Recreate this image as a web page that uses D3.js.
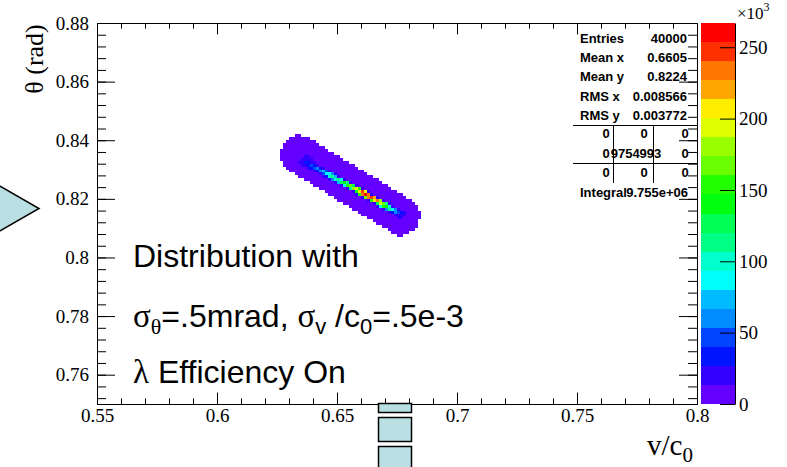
<!DOCTYPE html>
<html><head><meta charset="utf-8">
<script src="https://cdn.jsdelivr.net/npm/d3@7"></script>
<style>body{margin:0;background:#fff;} svg{display:block}</style>
</head><body>
<svg id="c" width="787" height="467"></svg>
<script>
// ---------------- data ----------------
const vRange = [0.55, 0.8];
const thetaRange = [0.75, 0.88];
const xTickLabels = ["0.55","0.6","0.65","0.7","0.75","0.8"];
const yTickLabels = ["0.76","0.78","0.8","0.82","0.84","0.86","0.88"];
const zTickLabels = ["0","50","100","150","200","250"];
const zMax = 267000;
const nLevels = 20;
const xBin = 0.00125;
const yBin = 0.001;

// outer (low count) envelope, one row per theta bin (bin low edge)
const envTheta = [0.841,0.840,0.839,0.838,0.837,0.836,0.835,0.834,0.833,0.832,0.831,0.830,0.829,0.828,0.827,0.826,0.825,0.824,0.823,0.822,0.821,0.820,0.819,0.818,0.817,0.816,0.815,0.814,0.813,0.812,0.811,0.810,0.809,0.808,0.807];
const envVmin = [0.6325,0.63,0.62875,0.6275,0.6275,0.62625,0.62625,0.62625,0.62625,0.6275,0.6275,0.62875,0.63,0.6325,0.63375,0.63625,0.63875,0.64,0.6425,0.645,0.64625,0.64875,0.65,0.6525,0.655,0.65625,0.65875,0.66,0.6625,0.665,0.66625,0.66875,0.67125,0.6725,0.675];
const envVmax = [0.635,0.63875,0.64125,0.6425,0.645,0.64625,0.64875,0.65125,0.6525,0.655,0.6575,0.65875,0.66125,0.6625,0.665,0.6675,0.66875,0.67125,0.6725,0.675,0.6775,0.67875,0.68125,0.6825,0.68375,0.68375,0.685,0.685,0.685,0.68375,0.68375,0.68375,0.6825,0.68,0.6775];
const envCount = 6000;

// blue halo around the ridge
const haloTheta = [0.834,0.833,0.832,0.831,0.830,0.829,0.828,0.827,0.826,0.825,0.824,0.823,0.822,0.821,0.820,0.819,0.818,0.817,0.816,0.815,0.814,0.813];
const haloVmin = [0.63625,0.635,0.63375,0.635,0.6375,0.64,0.6425,0.64375,0.64625,0.64875,0.65125,0.65375,0.65625,0.6575,0.66,0.6625,0.665,0.66625,0.66875,0.67125,0.67375,0.675];
const haloVmax = [0.63875,0.64,0.64125,0.6425,0.645,0.6475,0.65,0.65125,0.65375,0.65625,0.65875,0.66125,0.66375,0.665,0.6675,0.67,0.6725,0.67375,0.67625,0.67875,0.67875,0.6775];
const haloCount = 18000;

// ridge rows: [theta bin low edge, first v/c0 bin low edge, counts in consecutive bins]
const ridgeRows = [
 [0.833,0.63625,[20000,22000]],
 [0.832,0.635,[20000,28000,32000,24000]],
 [0.831,0.63625,[22000,36000,42000,30000]],
 [0.830,0.63875,[30000,52000,58000,38000]],
 [0.829,0.64125,[36000,64000,72000,45000]],
 [0.828,0.64375,[48000,84000,92000,60000]],
 [0.827,0.645,[40000,98000,112000,76000]],
 [0.826,0.6475,[60000,104000,118000,90000]],
 [0.825,0.65,[75000,128000,142000,110000]],
 [0.824,0.6525,[90000,150000,165000,125000]],
 [0.823,0.655,[110000,178000,195000,150000]],
 [0.822,0.6575,[140000,210000,252000,200000]],
 [0.821,0.65875,[150000,240000,262000,230000]],
 [0.820,0.66125,[170000,235000,252000,215000]],
 [0.819,0.66375,[150000,212000,228000,180000]],
 [0.818,0.66625,[130000,192000,170000,120000]],
 [0.817,0.6675,[90000,150000,140000,95000]],
 [0.816,0.67,[65000,108000,90000,55000]],
 [0.815,0.6725,[40000,62000,48000,30000]],
 [0.814,0.675,[22000,25000]]
];

const statLabels = ["Entries","Mean x","Mean y","RMS x","RMS y"];
const statValues = ["40000","0.6605","0.8224","0.008566","0.003772"];
const tableRows = [["0","0","0"],["0","9754993","0"],["0","0","0"]];
const integralText = ["Integral","9.755e+06"];

// ---------------- drawing ----------------
const svg = d3.select("#c");
const L = 97, R = 697, T = 23, B = 404;
const x = d3.scaleLinear().domain(vRange).range([L, R]);
const y = d3.scaleLinear().domain(thetaRange).range([B, T]);
const z = d3.scaleLinear().domain([0, zMax]).range([B, T]);

function colorOf(count){
  const lvl = Math.max(0, Math.min(nLevels-1, Math.floor(count/(zMax/nLevels))));
  const idx = Math.floor((lvl+0.99)*50/nLevels);
  if (idx >= 49) return "rgb(255,0,0)";
  const hue = 280 - (idx+1)*5.6;
  return d3.hsl(hue, 1, 0.5).formatRgb();
}

const cells = [];
envTheta.forEach((t,i)=>cells.push({v0:envVmin[i], v1:envVmax[i], t0:t, t1:t+yBin, c:envCount}));
haloTheta.forEach((t,i)=>cells.push({v0:haloVmin[i], v1:haloVmax[i], t0:t, t1:t+yBin, c:haloCount}));
ridgeRows.forEach(r=>r[2].forEach((c,j)=>cells.push({v0:r[1]+j*xBin, v1:r[1]+(j+1)*xBin, t0:r[0], t1:r[0]+yBin, c:c})));

svg.append("g").attr("shape-rendering","crispEdges").selectAll("rect").data(cells).join("rect")
  .attr("x", d=>Math.round(x(d.v0)))
  .attr("y", d=>Math.round(y(d.t1)))
  .attr("width", d=>Math.round(x(d.v1))-Math.round(x(d.v0)))
  .attr("height", d=>Math.round(y(d.t0))-Math.round(y(d.t1)))
  .attr("fill", d=>colorOf(d.c));

// axes
const serif = "Liberation Serif";
const sans = "Liberation Sans";
function styleAxis(g, size){
  g.attr("font-family", serif).attr("font-size", size);
  g.selectAll("line").attr("stroke","#000");
  g.selectAll("text").attr("fill","#000").attr("font-family", serif).attr("font-size", size)
    .style("font-family", serif).style("font-size", size+"px");
}
const xMajor = xTickLabels.map(Number);
const yMajor = yTickLabels.map(Number);
const xMinor = d3.range(0, 26).map(i=>0.55+i*0.01);
const yMinor = d3.range(0, 33).map(i=>0.752+i*0.004).filter(v=>v<=0.8801);
const LBL = 19;

// bottom
svg.append("g").attr("transform",`translate(0,${B})`)
  .call(d3.axisBottom(x).tickValues(xMinor).tickFormat("").tickSizeInner(-5.7).tickSizeOuter(0))
  .call(g=>{g.select(".domain").remove(); styleAxis(g,LBL);});
svg.append("g").attr("transform",`translate(0,${B})`)
  .call(d3.axisBottom(x).tickValues(xMajor).tickFormat((d,i)=>xTickLabels[i]).tickSizeInner(-11.4).tickSizeOuter(0).tickPadding(5))
  .call(g=>{g.select(".domain").remove(); styleAxis(g,LBL);});
// top
svg.append("g").attr("transform",`translate(0,${T})`)
  .call(d3.axisTop(x).tickValues(xMinor).tickFormat("").tickSizeInner(-5.7).tickSizeOuter(0))
  .call(g=>{g.select(".domain").remove(); styleAxis(g,LBL);});
svg.append("g").attr("transform",`translate(0,${T})`)
  .call(d3.axisTop(x).tickValues(xMajor).tickFormat("").tickSizeInner(-11.4).tickSizeOuter(0))
  .call(g=>{g.select(".domain").remove(); styleAxis(g,LBL);});
// left
svg.append("g").attr("transform",`translate(${L},0)`)
  .call(d3.axisLeft(y).tickValues(yMinor).tickFormat("").tickSizeInner(-9).tickSizeOuter(0))
  .call(g=>{g.select(".domain").remove(); styleAxis(g,LBL);});
svg.append("g").attr("transform",`translate(${L},0)`)
  .call(d3.axisLeft(y).tickValues(yMajor).tickFormat((d,i)=>yTickLabels[i]).tickSizeInner(-18).tickSizeOuter(0).tickPadding(8))
  .call(g=>{g.select(".domain").remove(); styleAxis(g,LBL);});
// right
svg.append("g").attr("transform",`translate(${R},0)`)
  .call(d3.axisRight(y).tickValues(yMinor).tickFormat("").tickSizeInner(-9).tickSizeOuter(0))
  .call(g=>{g.select(".domain").remove(); styleAxis(g,LBL);});
svg.append("g").attr("transform",`translate(${R},0)`)
  .call(d3.axisRight(y).tickValues(yMajor).tickFormat("").tickSizeInner(-18).tickSizeOuter(0))
  .call(g=>{g.select(".domain").remove(); styleAxis(g,LBL);});

// frame
svg.append("rect").attr("x",L+0.5).attr("y",T+0.5).attr("width",R-L).attr("height",B-T)
  .attr("fill","none").attr("stroke","#000").attr("stroke-width",1);

// colour bar
const CL = 701, CR = 735;
const levels = d3.range(nLevels);
svg.append("g").attr("shape-rendering","crispEdges").selectAll("rect").data(levels).join("rect")
  .attr("x", CL).attr("width", CR-CL)
  .attr("y", j=>Math.round(z((j+1)*zMax/nLevels)))
  .attr("height", j=>Math.round(z(j*zMax/nLevels))-Math.round(z((j+1)*zMax/nLevels)))
  .attr("fill", j=>colorOf((j+0.5)*zMax/nLevels));
svg.append("g").attr("transform",`translate(${CR},0)`)
  .call(d3.axisRight(z).tickValues(zTickLabels.map(s=>+s*1000)).tickFormat((d,i)=>zTickLabels[i]).tickSizeInner(-15).tickSizeOuter(0).tickPadding(4))
  .call(g=>{styleAxis(g,19); g.select(".domain").attr("stroke","#000");});
const expo = svg.append("text").attr("x",737).attr("y",19).style("font-family",serif).style("font-size","17px").attr("fill","#000");
expo.append("tspan").text("×10");
expo.append("tspan").style("font-size","12px").attr("dy",-8).text("3");

// axis titles
svg.append("text").attr("transform","translate(43,59) rotate(-90)").attr("text-anchor","middle")
  .style("font-family",serif).style("font-size","26px").attr("fill","#000").text("θ (rad)");
const xt = svg.append("text").attr("x",647).attr("y",455).style("font-family",serif).style("font-size","29px").attr("fill","#000");
xt.append("tspan").text("v/c");
xt.append("tspan").style("font-size","21px").attr("dy",7).text("0");

// stats box
const sg = svg.append("g").style("font-family",sans).attr("font-weight","bold").style("font-size","13px").attr("fill","#000");
const statBase = [42.5,61.5,80.5,100.5,119.5];
statLabels.forEach((s,i)=>{
  sg.append("text").attr("x",580).attr("y",statBase[i]).text(s);
  sg.append("text").attr("x",687).attr("y",statBase[i]).attr("text-anchor","end").text(statValues[i]);
});
const tableBase = [138,157.5,176.5];
tableRows.forEach((row,r)=>{
  row.forEach((s,c)=>{
    const cx = c===0 ? 606 : (c===2 ? 685 : (r===1 ? 636 : 644));
    sg.append("text").attr("x",cx).attr("y",tableBase[r]).attr("text-anchor","middle").text(s);
  });
});
sg.append("text").attr("x",580).attr("y",196.5).text(integralText[0]);
sg.append("text").attr("x",688).attr("y",196.5).attr("text-anchor","end").text(integralText[1]);
const lg = svg.append("g").attr("stroke","#000").attr("stroke-width",1);
lg.append("line").attr("x1",573).attr("x2",R).attr("y1",125.5).attr("y2",125.5);
lg.append("line").attr("x1",573).attr("x2",R).attr("y1",163.5).attr("y2",163.5);
lg.append("line").attr("x1",613.5).attr("x2",613.5).attr("y1",126).attr("y2",183);
lg.append("line").attr("x1",653.5).attr("x2",653.5).attr("y1",126).attr("y2",183);

// annotation text
const tg = svg.append("g").style("font-family",sans).style("font-size","32px").attr("fill","#000");
tg.append("text").attr("x",133).attr("y",267).text("Distribution with");
const l2 = tg.append("text").attr("x",133).attr("y",327);
l2.append("tspan").style("font-family",serif).style("font-size","33px").text("σ");
l2.append("tspan").style("font-family",serif).style("font-size","22px").attr("dy",7).text("θ");
l2.append("tspan").attr("dy",-7).text("=.5mrad, ");
l2.append("tspan").style("font-family",serif).style("font-size","33px").text("σ");
l2.append("tspan").style("font-size","22px").attr("dy",7).text("v");
l2.append("tspan").attr("dy",-7).text(" /c");
l2.append("tspan").style("font-size","22px").attr("dy",7).text("0");
l2.append("tspan").attr("dy",-7).text("=.5e-3");
const l3 = tg.append("text").attr("x",133).attr("y",383);
l3.append("tspan").style("font-family",serif).style("font-size","33px").text("λ");
l3.append("tspan").text(" Efficiency On");

// decorative shapes
const shapeFill = "#b9dfe2";
svg.append("path").attr("d","M-2,185 L39,208.5 L-2,232 Z").attr("fill",shapeFill).attr("stroke","#000").attr("stroke-width",1.5);
const boxes = [[403,412],[417,441],[446,472]];
svg.selectAll(".bx").data(boxes).join("rect").attr("class","bx")
  .attr("x",378.5).attr("width",33).attr("y",d=>d[0]+0.5).attr("height",d=>d[1]-d[0])
  .attr("fill",shapeFill).attr("stroke","#000").attr("stroke-width",1.5);
</script>
</body></html>
